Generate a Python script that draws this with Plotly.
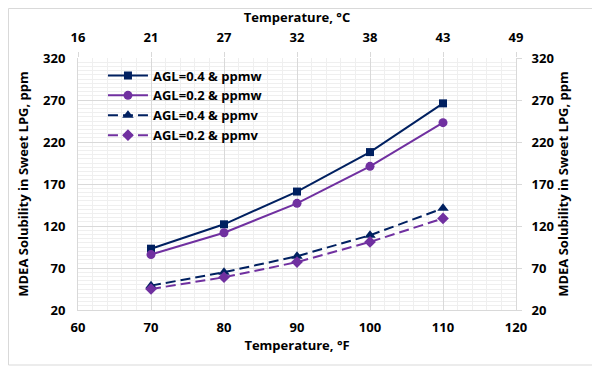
import plotly.graph_objects as go

temps_f = [70, 80, 90, 100, 110]
agl04_ppmw = [93, 122, 161, 208, 266]
agl02_ppmw = [86, 112, 147, 191, 243]
agl04_ppmv = [49, 65, 84, 109, 141]
agl02_ppmv = [45, 59, 77, 101, 129]

x_ticks = [60, 70, 80, 90, 100, 110, 120]
c_tick_labels = ["16", "21", "27", "32", "38", "43", "49"]
y_ticks = [20, 70, 120, 170, 220, 270, 320]

NAVY = "#002060"
PURPLE = "#7030A0"
FONT = dict(family="Open Sans, Calibri, Arial", size=13, color="#000000", weight="bold")

fig = go.Figure()
series = [
    ("AGL=0.4 & ppmw", agl04_ppmw, NAVY, "solid", "square", 8),
    ("AGL=0.2 & ppmw", agl02_ppmw, PURPLE, "solid", "circle", 9),
    ("AGL=0.4 & ppmv", agl04_ppmv, NAVY, "10px,5px", "triangle-up", 10),
    ("AGL=0.2 & ppmv", agl02_ppmv, PURPLE, "10px,5px", "diamond", 9),
]
for name, ys, col, dash, sym, ms in series:
    fig.add_trace(go.Scatter(
        x=temps_f, y=ys, name=name, mode="lines+markers",
        line=dict(color=col, width=2, dash=dash),
        marker=dict(symbol=sym, size=ms, color=col),
    ))

# invisible trace to anchor secondary axes
fig.add_trace(go.Scatter(x=[60, 120], y=[20, 320], xaxis="x2", yaxis="y2",
                         mode="markers", marker=dict(opacity=0), showlegend=False,
                         hoverinfo="skip"))

grid_major = "#D9D9D9"
grid_minor = "#EFEFEF"

W, H = 592, 363
L, R, T, B = 70, 84, 50, 61
PW, PH = W - L - R, H - T - B

fig.update_layout(
    width=W, height=H,
    margin=dict(l=L, r=R, t=T, b=B),
    paper_bgcolor="white", plot_bgcolor="white",
    font=FONT,
    showlegend=True,
    legend=dict(x=0.057, y=0.99, xanchor="left", yanchor="top",
                bgcolor="rgba(255,255,255,0)", font=FONT,
                itemwidth=40, tracegroupgap=0),
    xaxis=dict(range=[60, 120], tickvals=x_ticks, showgrid=True, gridcolor=grid_major,
               gridwidth=1, minor=dict(dtick=2, showgrid=True, gridcolor=grid_minor, gridwidth=1),
               showline=True, linecolor=grid_major, linewidth=1, ticks="", zeroline=False,
               automargin=False, ticklabelstandoff=5,
               title=dict(text="Temperature, °F", font=FONT, standoff=0),
               tickfont=FONT),
    xaxis2=dict(range=[60, 120], tickvals=x_ticks, ticktext=c_tick_labels, overlaying="x",
                side="top", showgrid=False, showline=False, ticks="outside", ticklen=5,
                tickcolor=grid_major, zeroline=False, automargin=False, ticklabelstandoff=5,
                title=dict(text="Temperature, °C", font=FONT, standoff=2), tickfont=FONT),
    yaxis=dict(range=[20, 320], tickvals=y_ticks, showgrid=True, gridcolor=grid_major,
               gridwidth=1, minor=dict(dtick=5, showgrid=True, gridcolor=grid_minor, gridwidth=1),
               showline=True, linecolor=grid_major, linewidth=1, ticks="", zeroline=False,
               automargin=False, ticklabelstandoff=9,
               title=dict(text="MDEA Solubility in Sweet LPG, ppm", font=FONT, standoff=11),
               tickfont=FONT),
    yaxis2=dict(range=[20, 320], tickvals=y_ticks, overlaying="y", side="right",
                showgrid=False, showline=True, linecolor=grid_major, ticks="outside", ticklen=5,
                tickcolor=grid_major, zeroline=False, automargin=False, ticklabelstandoff=7,
                title=dict(text="MDEA Solubility in Sweet LPG, ppm", font=FONT, standoff=0),
                tickfont=FONT),
    shapes=[dict(type="rect", xref="paper", yref="paper",
                 x0=(0.5 - L) / PW, x1=(587 - L) / PW,
                 y0=(T + PH - 357) / PH, y1=(T + PH - 0.5) / PH,
                 line=dict(color="#D9D9D9", width=1), fillcolor="rgba(0,0,0,0)", layer="below")],
)

fig.write_html("out.html")
